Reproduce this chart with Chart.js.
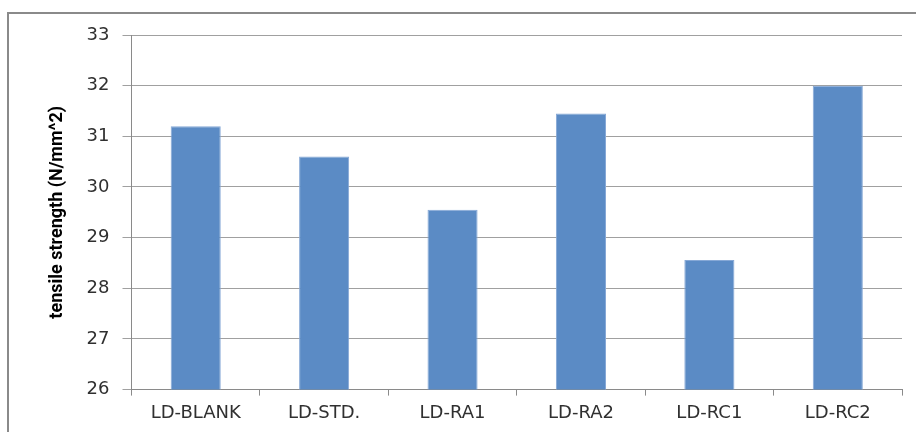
<!DOCTYPE html>
<html>
<head>
<meta charset="utf-8">
<script src="https://cdn.jsdelivr.net/npm/chart.js@4"></script>
<style>
  html, body { margin: 0; padding: 0; background: #fff; }
  #wrap { position: relative; width: 916px; height: 432px; overflow: hidden; }
  #frame { position: absolute; left: 7px; top: 12px; width: 920px; height: 440px; border: 2px solid #8a8a8a; box-sizing: border-box; pointer-events: none; }
  canvas { position: absolute; left: 0; top: 0; }
</style>
</head>
<body>
<div id="wrap">
  <canvas id="c" width="916" height="432"></canvas>
  <div id="frame"></div>
</div>
<script>
const categories = ["LD-BLANK", "LD-STD.", "LD-RA1", "LD-RA2", "LD-RC1", "LD-RC2"];
const tensileStrength = [31.2, 30.6, 29.55, 31.45, 28.56, 32.0];
const yMin = 26;
const yMax = 33;
const yTitle = "tensile strength (N/mm^2)";

new Chart(document.getElementById("c"), {
  type: "bar",
  data: {
    labels: categories,
    datasets: [{
      data: tensileStrength,
      backgroundColor: "#5b8bc5",
      borderColor: "#86a8d6",
      borderWidth: { left: 1, right: 1, top: 1, bottom: 0 },
      barPercentage: 0.39,
      categoryPercentage: 1.0
    }]
  },
  options: {
    responsive: false,
    animation: false,
    events: [],
    layout: { padding: { left: 40, right: 14, top: 35, bottom: 0 } },
    plugins: { legend: { display: false }, tooltip: { enabled: false } },
    scales: {
      x: {
        offset: true,
        grid: { offset: true, drawOnChartArea: false, drawTicks: true, tickLength: 6, color: "#8a8a8a" },
        border: { color: "#8a8a8a", width: 1 },
        ticks: { color: "#303030", font: { family: "DejaVu Sans", size: 18, lineHeight: 0.8 }, padding: 11, maxRotation: 0 }
      },
      y: {
        min: yMin,
        max: yMax,
        ticks: { stepSize: 1, color: "#303030", font: { family: "DejaVu Sans", size: 18 }, padding: 13 },
        grid: { color: "#a0a0a0", tickLength: 9, lineWidth: 1 },
        border: { color: "#8a8a8a", width: 1 },
        title: { display: true, text: yTitle, color: "#000", font: { family: "Roboto", size: 18, weight: "bold" }, padding: { top: 7, bottom: 5 } }
      }
    }
  }
});
</script>
</body>
</html>
